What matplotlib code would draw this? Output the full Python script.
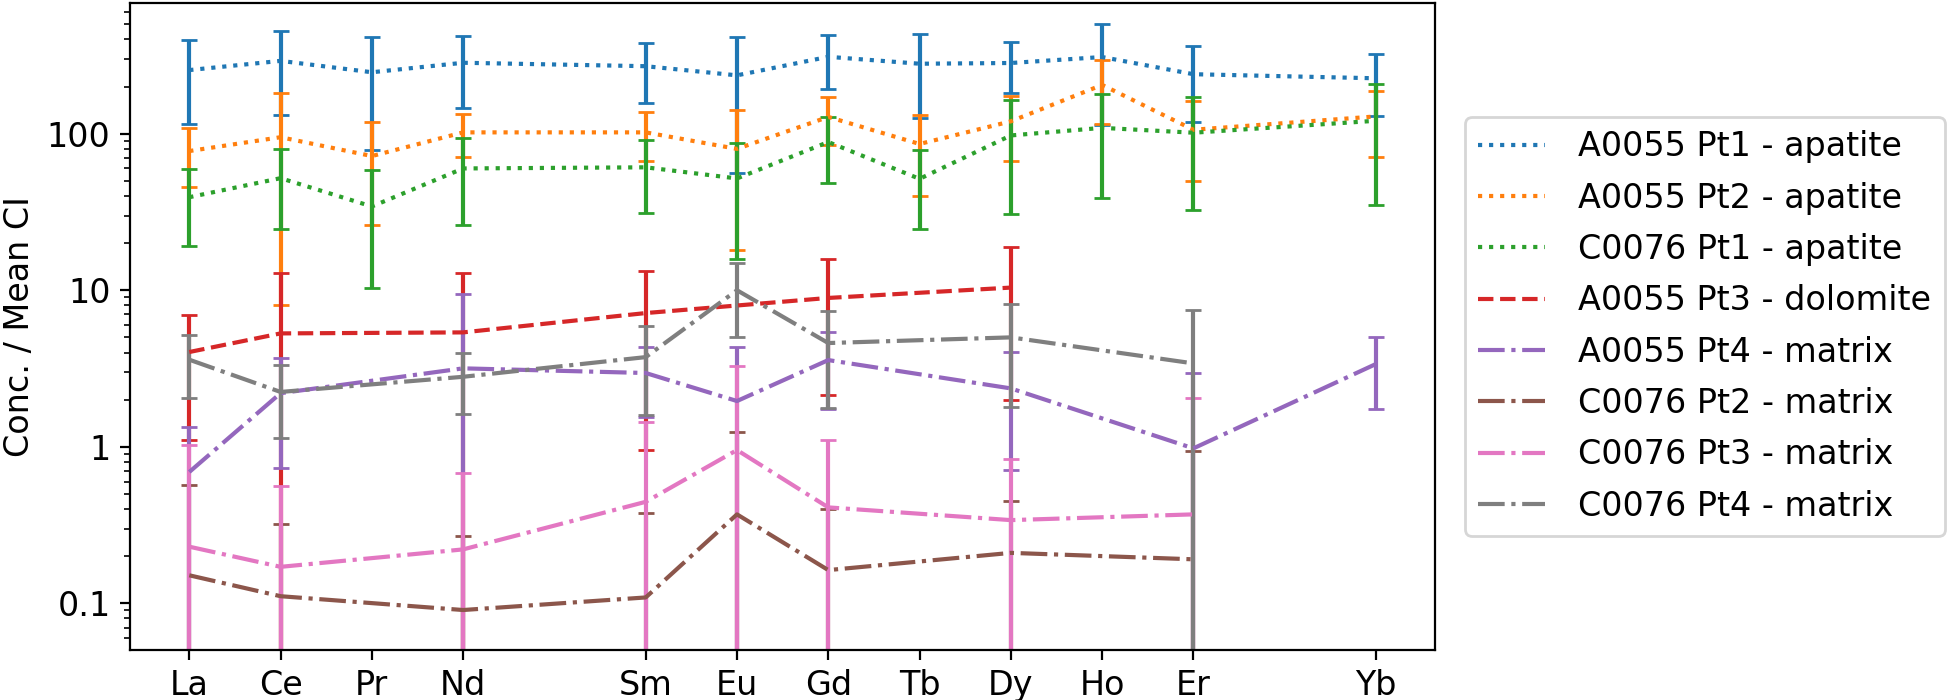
import numpy as np
import matplotlib
matplotlib.use("Agg")
import matplotlib.pyplot as plt
from matplotlib.ticker import FuncFormatter

# REE on the x axis, placed by atomic number (Pm and Tm are not measured)
elements = ['La', 'Ce', 'Pr', 'Nd', 'Sm', 'Eu', 'Gd', 'Tb', 'Dy', 'Ho', 'Er', 'Yb']
atomic_no = [57, 58, 59, 60, 62, 63, 64, 65, 66, 67, 68, 70]

# chondrite-normalised values and 1-sigma errors (None = not measured)
a55_pt1 = [255, 292, 247, 284, 270, 236, 310, 280, 283, 309, 240, 226]
a55_pt1_err = [140, 160, 168, 138, 112, 180, 116, 154, 101, 195, 121, 96]

a55_pt2 = [77.5, 95, 72, 102, 102, 80, 128, 86, 120, 205, 106, 129]
a55_pt2_err = [32, 87, 46, 31.5, 35, 62, 43, 46, 53, 90, 56, 58]

c76_pt1 = [39.3, 52, 34.3, 60, 61, 51.8, 88.5, 51.5, 97.5, 109, 101.5, 121]
c76_pt1_err = [20, 27.5, 24, 33.7, 29.7, 36, 40, 26.8, 67, 70, 69, 86]

a55_pt3 = [4.03, 5.3, None, 5.38, 7.15, None, 8.93, None, 10.4, None, None, None]
a55_pt3_err = [2.93, 7.5, None, 7.5, 6.2, None, 6.8, None, 8.4, None, None, None]

a55_pt4 = [0.69, 2.2, None, 3.17, 2.96, 1.96, 3.58, None, 2.36, None, 0.977, 3.38]
a55_pt4_err = [0.64, 1.47, None, 6.3, 1.4, 2.4, 1.83, None, 1.65, None, 1.98, 1.64]

c76_pt2 = [0.151, 0.111, None, 0.0906, 0.109, 0.37, 0.163, None, 0.21, None, 0.191, None]
c76_pt2_err = [0.42, 0.21, None, 0.18, 0.27, 0.87, 0.24, None, 0.24, None, 0.75, None]

c76_pt3 = [0.23, 0.171, None, 0.221, 0.445, 0.953, 0.41, None, 0.34, None, 0.37, None]
c76_pt3_err = [0.79, 0.39, None, 0.455, 1.0, 2.33, 0.69, None, 0.5, None, 1.68, None]

c76_pt4 = [3.6, 2.24, None, 2.8, 3.74, 10.0, 4.6, None, 5.0, None, 3.41, None]
c76_pt4_err = [1.56, 1.11, None, 1.17, 2.15, 5.0, 2.82, None, 3.2, None, 4.1, None]

series = [
    ('A0055 Pt1 - apatite', a55_pt1, a55_pt1_err, ':', 'tab:blue'),
    ('A0055 Pt2 - apatite', a55_pt2, a55_pt2_err, ':', 'tab:orange'),
    ('C0076 Pt1 - apatite', c76_pt1, c76_pt1_err, ':', 'tab:green'),
    ('A0055 Pt3 - dolomite', a55_pt3, a55_pt3_err, '--', 'tab:red'),
    ('A0055 Pt4 - matrix', a55_pt4, a55_pt4_err, '-.', 'tab:purple'),
    ('C0076 Pt2 - matrix', c76_pt2, c76_pt2_err, '-.', 'tab:brown'),
    ('C0076 Pt3 - matrix', c76_pt3, c76_pt3_err, '-.', 'tab:pink'),
    ('C0076 Pt4 - matrix', c76_pt4, c76_pt4_err, '-.', 'tab:gray'),
]

plt.rcParams['font.size'] = 12

fig = plt.figure(figsize=(9.8, 3.5), dpi=200)
ax = fig.add_axes([0.0663, 0.0714, 0.666, 0.9243])

lines = []
for label, vals, errs, ls, col in series:
    keep = [i for i, v in enumerate(vals) if v is not None]
    x = [atomic_no[i] for i in keep]
    y = [vals[i] for i in keep]
    e = [errs[i] for i in keep]
    cont = ax.errorbar(x, y, yerr=e, linestyle=ls, color=col, capsize=3)
    lines.append((cont[0], label))

ax.set_yscale('log')
ax.set_ylim(0.0503, 684)
ax.set_xlim(56.35, 70.65)
ax.yaxis.set_major_formatter(FuncFormatter(lambda v, _: '{:g}'.format(v)))
ax.set_xticks(atomic_no)
ax.set_xticklabels(elements)
ax.set_ylabel('Conc. / Mean CI')

# legend shows only the lines, not the error bars
ax.legend([l for l, _ in lines], [t for _, t in lines],
          loc='center left', bbox_to_anchor=(1.01, 0.5),
          labelspacing=0.55, handletextpad=1.0)

fig.savefig('out.png', dpi=200)
